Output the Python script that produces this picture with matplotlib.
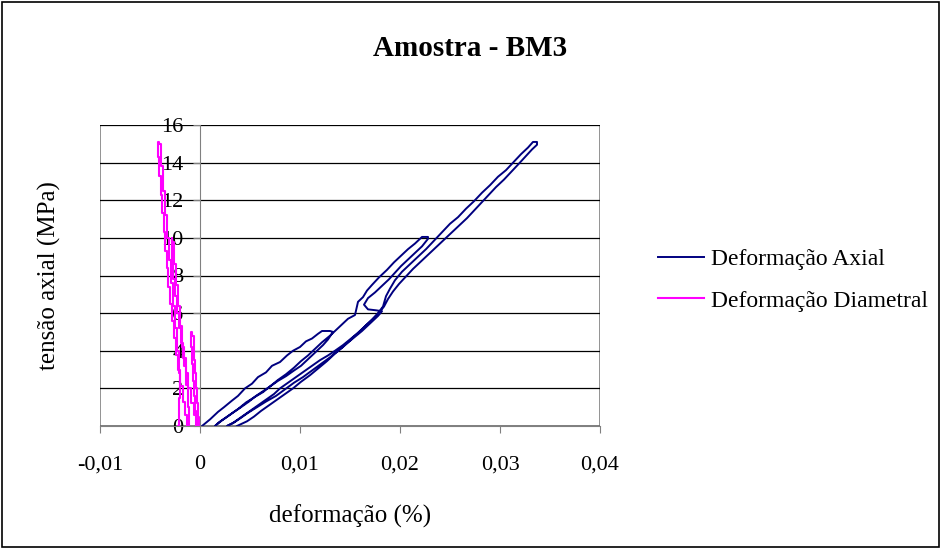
import numpy as np
import matplotlib.pyplot as plt
from matplotlib.patches import Rectangle
from matplotlib.ticker import FuncFormatter, MultipleLocator

plt.rcParams['font.family'] = ['Liberation Serif', 'DejaVu Serif']

# Deformação Axial: loading/unloading cycles (5, 10, 15 MPa)
ax_load1_x = [0.0002, 0.0010, 0.0018, 0.0024, 0.0032, 0.0038, 0.0045, 0.0052, 0.0058, 0.0066,
              0.0072, 0.0080, 0.0087, 0.0093, 0.0100, 0.0106, 0.0112, 0.0118, 0.0122, 0.0130]
ax_load1_y = [0.0, 0.35, 0.75, 1.0, 1.35, 1.6, 2.0, 2.25, 2.6, 2.85,
              3.2, 3.4, 3.75, 4.0, 4.2, 4.5, 4.65, 4.9, 5.05, 5.05]
ax_unl1_x = [0.0133, 0.0128, 0.0123, 0.0118, 0.0113, 0.0107, 0.0101, 0.0094, 0.0086, 0.0078,
             0.0070, 0.0063, 0.0056, 0.0049, 0.0041, 0.0034, 0.0026, 0.0019, 0.0015]
ax_unl1_y = [5.0, 4.6, 4.3, 4.05, 3.8, 3.5, 3.2, 2.95, 2.65, 2.4,
             2.1, 1.85, 1.6, 1.3, 1.0, 0.75, 0.45, 0.2, 0.0]
ax_load2_x = [0.0015, 0.0022, 0.0030, 0.0038, 0.0046, 0.0055, 0.0063, 0.0070, 0.0078, 0.0086,
              0.0094, 0.0101, 0.0108, 0.0115, 0.0122, 0.0130, 0.0137, 0.0143, 0.0148, 0.0155,
              0.0158, 0.0163, 0.0167, 0.0172, 0.0179, 0.0187, 0.0194, 0.0201, 0.0208, 0.0215,
              0.0222, 0.0228]
ax_load2_y = [0.0, 0.3, 0.6, 0.9, 1.25, 1.55, 1.8, 2.1, 2.45, 2.75,
              3.1, 3.45, 3.75, 4.1, 4.45, 4.8, 5.15, 5.45, 5.7, 5.9,
              6.6, 6.85, 7.2, 7.5, 7.9, 8.3, 8.7, 9.05, 9.4, 9.7,
              10.05, 10.05]
ax_unl2_x = [0.0228, 0.0222, 0.0215, 0.0208, 0.0201, 0.0195, 0.0189, 0.0182, 0.0175, 0.0168,
             0.0164, 0.0168, 0.0176, 0.0182, 0.0178, 0.0170, 0.0162, 0.0154, 0.0146, 0.0138,
             0.0130, 0.0121, 0.0112, 0.0103, 0.0094, 0.0085, 0.0076, 0.0066, 0.0057, 0.0048,
             0.0040, 0.0033, 0.0027]
ax_unl2_y = [9.95, 9.55, 9.2, 8.85, 8.5, 8.15, 7.8, 7.45, 7.1, 6.8,
             6.45, 6.2, 6.15, 6.1, 5.85, 5.45, 5.05, 4.7, 4.35, 4.0,
             3.65, 3.3, 2.95, 2.6, 2.3, 1.95, 1.6, 1.3, 1.0, 0.7,
             0.4, 0.15, 0.0]
ax_load3_x = [0.0027, 0.0034, 0.0042, 0.0050, 0.0058, 0.0066, 0.0074, 0.0080, 0.0088, 0.0096,
              0.0104, 0.0112, 0.0120, 0.0128, 0.0135, 0.0143, 0.0150, 0.0158, 0.0165, 0.0172,
              0.0178, 0.0183, 0.0186, 0.0190, 0.0195, 0.0202, 0.0210, 0.0218, 0.0226, 0.0234,
              0.0242, 0.0250, 0.0258, 0.0266, 0.0274, 0.0282, 0.0290, 0.0298, 0.0306, 0.0314,
              0.0321, 0.0328, 0.0333, 0.0337]
ax_load3_y = [0.0, 0.2, 0.5, 0.8, 1.1, 1.4, 1.7, 2.0, 2.3, 2.6,
              2.9, 3.2, 3.5, 3.75, 4.0, 4.3, 4.6, 4.95, 5.3, 5.65,
              6.0, 6.35, 6.9, 7.3, 7.75, 8.2, 8.6, 9.0, 9.4, 9.85,
              10.3, 10.75, 11.1, 11.55, 11.95, 12.4, 12.8, 13.25, 13.6, 14.05,
              14.45, 14.8, 15.1, 15.1]
ax_unl3_x = [0.0337, 0.0332, 0.0326, 0.0319, 0.0312, 0.0304, 0.0296, 0.0289, 0.0282, 0.0275,
             0.0267, 0.0260, 0.0252, 0.0245, 0.0237, 0.0229, 0.0221, 0.0213, 0.0206, 0.0199,
             0.0193, 0.0188, 0.0184, 0.0178, 0.0171, 0.0164, 0.0157, 0.0150, 0.0143, 0.0135,
             0.0127, 0.0119, 0.0110, 0.0101, 0.0093, 0.0085, 0.0077, 0.0069, 0.0061, 0.0054,
             0.0047, 0.0041, 0.0037]
ax_unl3_y = [14.95, 14.7, 14.35, 13.95, 13.55, 13.1, 12.7, 12.3, 11.9, 11.5,
             11.05, 10.7, 10.3, 9.95, 9.55, 9.15, 8.75, 8.35, 7.95, 7.55,
             7.15, 6.75, 6.35, 5.95, 5.6, 5.25, 4.9, 4.55, 4.2, 3.85,
             3.45, 3.1, 2.7, 2.35, 2.0, 1.7, 1.4, 1.1, 0.8, 0.5,
             0.25, 0.1, 0.0]

# Deformação Diametral (negative strain)
di_load1_x = [-0.0003, -0.0005, -0.0006, -0.0007, -0.0008, -0.0009, -0.0009]
di_load1_y = [0.0, 0.8, 1.6, 2.4, 3.3, 4.2, 5.0]
di_unl1_x = [-0.0007, -0.0006, -0.0005, -0.0004, -0.0003, -0.0002, -0.0001]
di_unl1_y = [4.8, 3.5, 2.8, 2.0, 1.2, 0.5, 0.0]
di_load2_x = [-0.0001, -0.0005, -0.0008, -0.0011, -0.0013, -0.0016, -0.0018, -0.0020, -0.0022,
              -0.0024, -0.0026, -0.0028, -0.0029]
di_load2_y = [0.0, 0.6, 1.2, 2.0, 2.8, 3.6, 4.4, 5.2, 6.0, 6.9, 7.8, 8.8, 10.0]
di_unl2_x = [-0.0027, -0.0025, -0.0023, -0.0021, -0.0019, -0.0017, -0.0015, -0.0013, -0.0011,
             -0.0012]
di_unl2_y = [9.8, 8.6, 7.5, 6.4, 5.3, 4.2, 3.2, 2.2, 1.0, 0.0]
di_load3_x = [-0.0012, -0.0014, -0.0016, -0.0019, -0.0021, -0.0023, -0.0025, -0.0027, -0.0029,
              -0.0031, -0.0033, -0.0034, -0.0036, -0.0037, -0.0039, -0.0040, -0.0042, -0.0043]
di_load3_y = [0.0, 0.6, 1.3, 2.1, 3.0, 3.8, 4.7, 5.6, 6.5, 7.4, 8.4, 9.3, 10.3, 11.3, 12.3,
              13.3, 14.3, 15.1]
di_unl3_x = [-0.0040, -0.0038, -0.0036, -0.0034, -0.0032, -0.0030, -0.0028, -0.0026, -0.0024,
             -0.0022, -0.0021, -0.0020, -0.0022]
di_unl3_y = [15.0, 13.8, 12.5, 11.2, 10.0, 8.8, 7.6, 6.4, 5.2, 4.0, 2.8, 1.5, 0.0]

axial_x = ax_load1_x + ax_unl1_x + ax_load2_x + ax_unl2_x + ax_load3_x + ax_unl3_x
axial_y = ax_load1_y + ax_unl1_y + ax_load2_y + ax_unl2_y + ax_load3_y + ax_unl3_y
diam_x = di_load1_x + di_unl1_x + di_load2_x + di_unl2_x + di_load3_x + di_unl3_x
diam_y = di_load1_y + di_unl1_y + di_load2_y + di_unl2_y + di_load3_y + di_unl3_y

fig = plt.figure(figsize=(9.41, 5.49), dpi=100)
ax = fig.add_axes([100 / 941, 1 - 426 / 549, 500 / 941, 301 / 549])

ax.plot(axial_x, axial_y, color='#000080', lw=1.4, label='Deformação Axial')
ax.plot(diam_x, diam_y, color='#FF00FF', lw=1.5, drawstyle='steps-mid',
        label='Deformação Diametral')

ax.set_xlim(-0.01, 0.04)
ax.set_ylim(0, 16)
ax.xaxis.set_major_locator(MultipleLocator(0.01))
ax.yaxis.set_major_locator(MultipleLocator(2))


def fmt(v, pos):
    if abs(v) < 1e-9:
        return '0'
    return f'{v:.2f}'.replace('.', ',')


ax.xaxis.set_major_formatter(FuncFormatter(fmt))
ax.set_axisbelow(True)
ax.yaxis.grid(True, color='black', lw=0.9)

for s in ['top', 'right']:
    ax.spines[s].set_visible(False)
ax.spines['left'].set_position(('data', 0))
ax.spines['left'].set_color('#808080')
ax.spines['bottom'].set_color('#808080')
ax.add_patch(Rectangle((0, 0), 1, 1, transform=ax.transAxes, fill=False,
                       edgecolor='#808080', lw=1.2, zorder=0.4))

ax.tick_params(axis='y', direction='out', length=5, pad=7, labelsize=16, color='#808080')
ax.tick_params(axis='x', direction='out', length=5, pad=16, labelsize=16, color='#808080')

ax.set_xlabel('deformação (%)', fontsize=18)
ax.xaxis.set_label_coords(0.5, -0.26)
ax.set_ylabel('tensão axial (MPa)', fontsize=18)
ax.yaxis.set_label_coords(-0.078, 0.5)

fig.suptitle('Amostra - BM3', x=0.5, y=1 - 48 / 549, va='center', fontsize=21,
             fontweight='bold')

ax.legend(loc='center left', bbox_to_anchor=(646 / 941, 1 - 280 / 549),
          bbox_transform=fig.transFigure, frameon=False, fontsize=17,
          handlelength=1.95, handletextpad=0.3, labelspacing=0.85, borderpad=0)

fig.add_artist(Rectangle((2 / 941, 2 / 549), 937 / 941, 545 / 549,
                         transform=fig.transFigure, fill=False, edgecolor='black', lw=1.2))

fig.savefig('out.png', dpi=100)
